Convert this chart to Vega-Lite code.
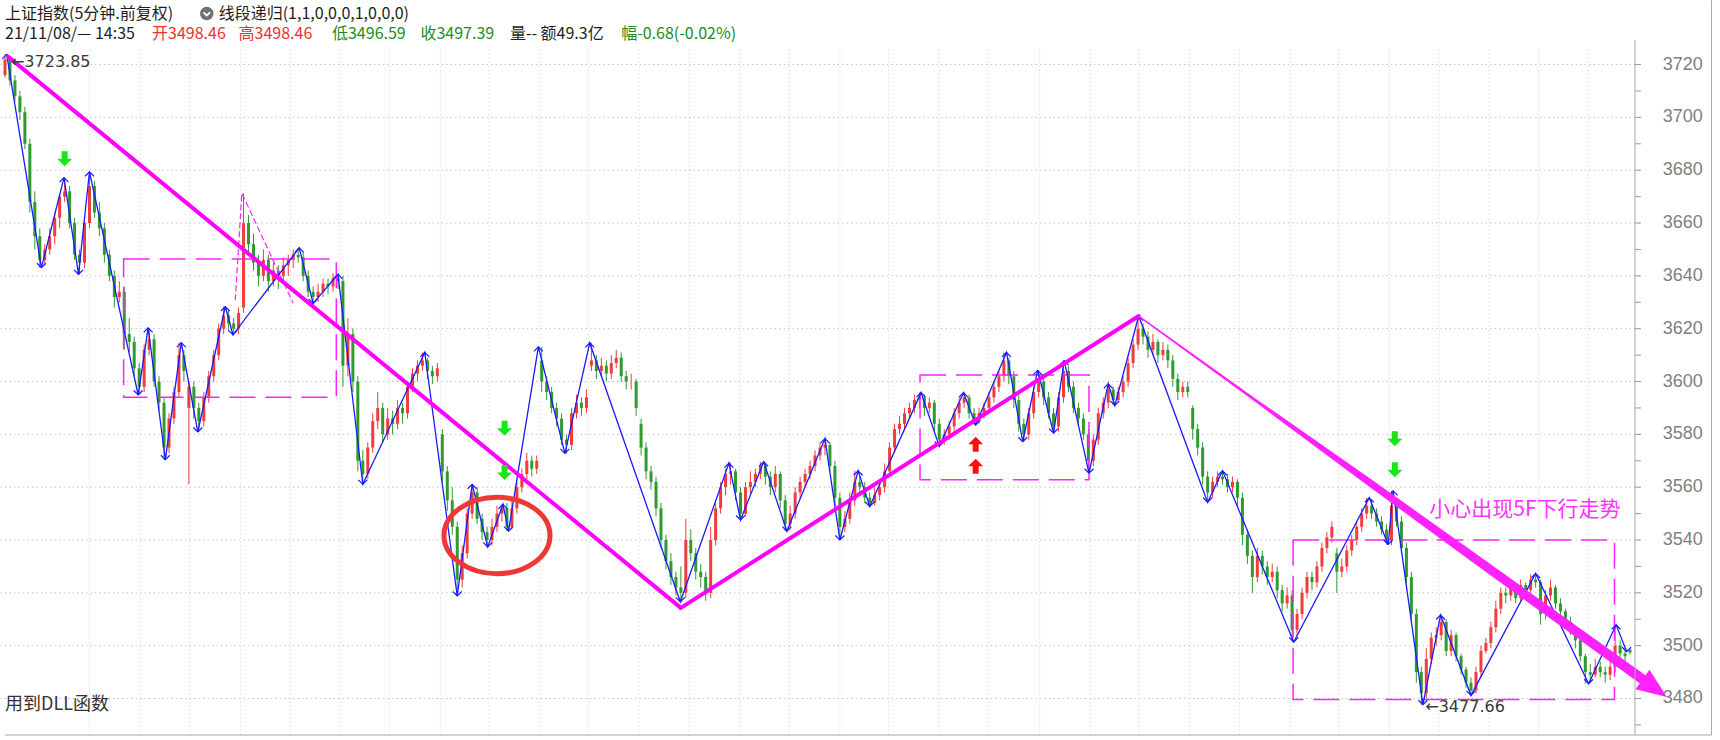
{
"$schema":"https://vega.github.io/schema/vega-lite/v6.json",
"width":1640,"height":685,
"autosize":{"type":"none"},
"padding":{"left":0,"top":50,"right":80,"bottom":5},
"background":"#ffffff",
"config":{"view":{"stroke":null},"font":"Liberation Sans"},
"datasets":{
"k":[
{"i":0,"o":3716,"h":3723.85,"l":3715,"c":3722},{"i":1,"o":3722,"h":3723,"l":3712,"c":3714},{"i":2,"o":3714,"h":3716,"l":3706,"c":3708},{"i":3,"o":3708,"h":3710,"l":3699,"c":3702},{"i":4,"o":3702,"h":3704,"l":3688,"c":3690},{"i":5,"o":3690,"h":3692,"l":3664,"c":3668},{"i":6,"o":3668,"h":3672,"l":3650,"c":3655},{"i":7,"o":3655,"h":3658,"l":3643,"c":3646},{"i":8,"o":3646,"h":3652,"l":3644,"c":3650},{"i":9,"o":3650,"h":3658,"l":3648,"c":3655},
{"i":10,"o":3655,"h":3664,"l":3652,"c":3662},{"i":11,"o":3662,"h":3671,"l":3658,"c":3670},{"i":12,"o":3670,"h":3677.2,"l":3668,"c":3672},{"i":13,"o":3672,"h":3674,"l":3658,"c":3660},{"i":14,"o":3660,"h":3662,"l":3646,"c":3648},{"i":15,"o":3648,"h":3650,"l":3640.6,"c":3645},{"i":16,"o":3645,"h":3662,"l":3643,"c":3660},{"i":17,"o":3660,"h":3679.4,"l":3658,"c":3674},{"i":18,"o":3674,"h":3676,"l":3662,"c":3664},{"i":19,"o":3664,"h":3668,"l":3655,"c":3658},
{"i":20,"o":3658,"h":3660,"l":3645,"c":3648},{"i":21,"o":3648,"h":3650,"l":3638,"c":3640},{"i":22,"o":3640,"h":3642,"l":3628,"c":3632},{"i":23,"o":3632,"h":3638,"l":3630,"c":3634},{"i":24,"o":3634,"h":3636,"l":3612,"c":3618},{"i":25,"o":3618,"h":3624,"l":3611,"c":3615},{"i":26,"o":3615,"h":3617,"l":3602,"c":3605},{"i":27,"o":3605,"h":3607,"l":3594.9,"c":3598},{"i":28,"o":3598,"h":3614,"l":3596,"c":3612},{"i":29,"o":3612,"h":3620.3,"l":3610,"c":3616},
{"i":30,"o":3616,"h":3618,"l":3598,"c":3600},{"i":31,"o":3600,"h":3602,"l":3589,"c":3592},{"i":32,"o":3592,"h":3594,"l":3570.4,"c":3575},{"i":33,"o":3575,"h":3588,"l":3573,"c":3586},{"i":34,"o":3586,"h":3598,"l":3584,"c":3596},{"i":35,"o":3596,"h":3614.7,"l":3594,"c":3610},{"i":36,"o":3610,"h":3612,"l":3600,"c":3604},{"i":37,"o":3590,"h":3600,"l":3561,"c":3598},{"i":38,"o":3598,"h":3600,"l":3586,"c":3590},{"i":39,"o":3590,"h":3592,"l":3580.9,"c":3585},
{"i":40,"o":3585,"h":3596,"l":3583,"c":3594},{"i":41,"o":3594,"h":3604,"l":3592,"c":3602},{"i":42,"o":3602,"h":3612,"l":3600,"c":3610},{"i":43,"o":3610,"h":3622,"l":3608,"c":3620},{"i":44,"o":3620,"h":3628.4,"l":3618,"c":3625},{"i":45,"o":3625,"h":3627,"l":3619,"c":3622},{"i":46,"o":3622,"h":3624,"l":3617.7,"c":3620},{"i":47,"o":3620,"h":3628,"l":3618,"c":3626},{"i":48,"o":3628,"h":3671.3,"l":3626,"c":3660},{"i":49,"o":3660,"h":3663,"l":3648,"c":3652},
{"i":50,"o":3652,"h":3656,"l":3642,"c":3645},{"i":51,"o":3645,"h":3648,"l":3636,"c":3640},{"i":52,"o":3640,"h":3650,"l":3638,"c":3646},{"i":53,"o":3646,"h":3648,"l":3634,"c":3638},{"i":54,"o":3638,"h":3645,"l":3636,"c":3642},{"i":55,"o":3642,"h":3644,"l":3635,"c":3640},{"i":56,"o":3640,"h":3647,"l":3638,"c":3644},{"i":57,"o":3644,"h":3648,"l":3640,"c":3646},{"i":58,"o":3646,"h":3650,"l":3643,"c":3648},{"i":59,"o":3648,"h":3650.6,"l":3645,"c":3647},
{"i":60,"o":3647,"h":3649,"l":3638,"c":3640},{"i":61,"o":3640,"h":3642,"l":3632,"c":3634},{"i":62,"o":3634,"h":3636,"l":3629.6,"c":3632},{"i":63,"o":3632,"h":3637,"l":3630,"c":3634},{"i":64,"o":3634,"h":3639,"l":3632,"c":3637},{"i":65,"o":3637,"h":3639,"l":3633,"c":3636},{"i":66,"o":3636,"h":3641,"l":3634,"c":3639},{"i":67,"o":3639,"h":3640.6,"l":3635,"c":3638},{"i":68,"o":3638,"h":3640,"l":3598,"c":3606},{"i":69,"o":3606,"h":3624,"l":3602,"c":3618},
{"i":70,"o":3618,"h":3620,"l":3596,"c":3600},{"i":71,"o":3600,"h":3602,"l":3566,"c":3570},{"i":72,"o":3570,"h":3574,"l":3561.1,"c":3565},{"i":73,"o":3565,"h":3577,"l":3563,"c":3575},{"i":74,"o":3575,"h":3588,"l":3573,"c":3585},{"i":75,"o":3585,"h":3596,"l":3582,"c":3590},{"i":76,"o":3590,"h":3592,"l":3577,"c":3580},{"i":77,"o":3580,"h":3590,"l":3578,"c":3586},{"i":78,"o":3586,"h":3589,"l":3580,"c":3584},{"i":79,"o":3584,"h":3593,"l":3582,"c":3590},
{"i":80,"o":3590,"h":3592,"l":3584,"c":3588},{"i":81,"o":3588,"h":3600,"l":3586,"c":3598},{"i":82,"o":3598,"h":3605,"l":3596,"c":3603},{"i":83,"o":3603,"h":3608,"l":3600,"c":3606},{"i":84,"o":3606,"h":3611,"l":3604,"c":3608},{"i":85,"o":3608,"h":3609,"l":3601,"c":3604},{"i":86,"o":3604,"h":3606,"l":3599,"c":3602},{"i":87,"o":3602,"h":3607,"l":3600,"c":3605},{"i":88,"o":3580,"h":3582,"l":3562,"c":3566},{"i":89,"o":3566,"h":3568,"l":3551,"c":3555},
{"i":90,"o":3555,"h":3560,"l":3542,"c":3545},{"i":91,"o":3545,"h":3547,"l":3518.8,"c":3525},{"i":92,"o":3525,"h":3538,"l":3522,"c":3535},{"i":93,"o":3535,"h":3552,"l":3533,"c":3550},{"i":94,"o":3550,"h":3561.1,"l":3548,"c":3558},{"i":95,"o":3558,"h":3560,"l":3546,"c":3548},{"i":96,"o":3548,"h":3550,"l":3540,"c":3543},{"i":97,"o":3543,"h":3545,"l":3537.4,"c":3540},{"i":98,"o":3540,"h":3548,"l":3538,"c":3545},{"i":99,"o":3545,"h":3553,"l":3543,"c":3550},
{"i":100,"o":3550,"h":3553.5,"l":3547,"c":3552},{"i":101,"o":3552,"h":3554,"l":3543.4,"c":3545},{"i":102,"o":3545,"h":3555,"l":3544,"c":3552},{"i":103,"o":3552,"h":3562,"l":3550,"c":3560},{"i":104,"o":3560,"h":3567,"l":3558,"c":3565},{"i":105,"o":3565,"h":3573,"l":3563,"c":3570},{"i":106,"o":3570,"h":3572,"l":3564,"c":3567},{"i":107,"o":3567,"h":3572,"l":3565,"c":3570},{"i":108,"o":3608,"h":3613.1,"l":3596,"c":3600},{"i":109,"o":3600,"h":3602,"l":3593,"c":3596},
{"i":110,"o":3596,"h":3598,"l":3588,"c":3590},{"i":111,"o":3590,"h":3592,"l":3583,"c":3586},{"i":112,"o":3586,"h":3588,"l":3576,"c":3578},{"i":113,"o":3578,"h":3580,"l":3572.8,"c":3576},{"i":114,"o":3576,"h":3590,"l":3574,"c":3588},{"i":115,"o":3588,"h":3595,"l":3586,"c":3592},{"i":116,"o":3592,"h":3594,"l":3587,"c":3590},{"i":117,"o":3590,"h":3597,"l":3588,"c":3594},{"i":118,"o":3606,"h":3614.6,"l":3604,"c":3608},{"i":119,"o":3608,"h":3610,"l":3601,"c":3604},
{"i":120,"o":3604,"h":3609,"l":3602,"c":3606},{"i":121,"o":3606,"h":3608,"l":3600,"c":3603},{"i":122,"o":3603,"h":3610,"l":3601,"c":3607},{"i":123,"o":3607,"h":3612,"l":3605,"c":3609},{"i":124,"o":3609,"h":3611,"l":3600,"c":3602},{"i":125,"o":3602,"h":3604,"l":3597,"c":3600},{"i":126,"o":3600,"h":3603,"l":3597,"c":3600},{"i":127,"o":3600,"h":3601,"l":3587,"c":3590},{"i":128,"o":3584,"h":3586,"l":3572,"c":3575},{"i":129,"o":3575,"h":3577,"l":3563,"c":3566},
{"i":130,"o":3566,"h":3568,"l":3559,"c":3562},{"i":131,"o":3562,"h":3564,"l":3549,"c":3552},{"i":132,"o":3552,"h":3554,"l":3537,"c":3540},{"i":133,"o":3540,"h":3542,"l":3529,"c":3532},{"i":134,"o":3532,"h":3535,"l":3523,"c":3526},{"i":135,"o":3526,"h":3528,"l":3519,"c":3522},{"i":136,"o":3522,"h":3530,"l":3516.6,"c":3520},{"i":137,"o":3520,"h":3548,"l":3518,"c":3540},{"i":138,"o":3540,"h":3544,"l":3532,"c":3535},{"i":139,"o":3535,"h":3537,"l":3525,"c":3528},
{"i":140,"o":3528,"h":3531,"l":3522,"c":3526},{"i":141,"o":3526,"h":3528,"l":3517,"c":3520},{"i":142,"o":3520,"h":3545,"l":3518,"c":3540},{"i":143,"o":3540,"h":3554,"l":3538,"c":3552},{"i":144,"o":3552,"h":3562,"l":3550,"c":3560},{"i":145,"o":3560,"h":3567,"l":3557,"c":3565},{"i":146,"o":3565,"h":3569.1,"l":3561,"c":3566},{"i":147,"o":3566,"h":3567,"l":3555,"c":3558},{"i":148,"o":3558,"h":3560,"l":3547.6,"c":3550},{"i":149,"o":3550,"h":3562,"l":3549,"c":3560},
{"i":150,"o":3560,"h":3566,"l":3557,"c":3562},{"i":151,"o":3562,"h":3567,"l":3560,"c":3565},{"i":152,"o":3565,"h":3569.6,"l":3563,"c":3568},{"i":153,"o":3568,"h":3569,"l":3561,"c":3564},{"i":154,"o":3564,"h":3566,"l":3557,"c":3560},{"i":155,"o":3560,"h":3568,"l":3558,"c":3565},{"i":156,"o":3565,"h":3566,"l":3552,"c":3555},{"i":157,"o":3555,"h":3557,"l":3543.4,"c":3546},{"i":158,"o":3546,"h":3553,"l":3544,"c":3550},{"i":159,"o":3550,"h":3560,"l":3548,"c":3558},
{"i":160,"o":3558,"h":3564,"l":3556,"c":3562},{"i":161,"o":3562,"h":3567,"l":3560,"c":3565},{"i":162,"o":3565,"h":3570,"l":3563,"c":3568},{"i":163,"o":3568,"h":3574,"l":3566,"c":3572},{"i":164,"o":3572,"h":3577,"l":3570,"c":3575},{"i":165,"o":3575,"h":3578.4,"l":3572,"c":3576},{"i":166,"o":3576,"h":3577,"l":3566,"c":3568},{"i":167,"o":3568,"h":3570,"l":3553,"c":3556},{"i":168,"o":3556,"h":3558,"l":3540,"c":3545},{"i":169,"o":3545,"h":3551,"l":3543,"c":3548},
{"i":170,"o":3548,"h":3558,"l":3546,"c":3555},{"i":171,"o":3555,"h":3566.2,"l":3553,"c":3562},{"i":172,"o":3562,"h":3564,"l":3557,"c":3560},{"i":173,"o":3560,"h":3562,"l":3554,"c":3556},{"i":174,"o":3556,"h":3558,"l":3552.7,"c":3554},{"i":175,"o":3554,"h":3560,"l":3553,"c":3557},{"i":176,"o":3557,"h":3563,"l":3555,"c":3560},{"i":177,"o":3560,"h":3569,"l":3558,"c":3566},{"i":178,"o":3566,"h":3577,"l":3564,"c":3575},{"i":179,"o":3575,"h":3584,"l":3573,"c":3582},
{"i":180,"o":3582,"h":3587,"l":3580,"c":3584},{"i":181,"o":3584,"h":3590,"l":3582,"c":3588},{"i":182,"o":3588,"h":3592,"l":3586,"c":3590},{"i":183,"o":3590,"h":3595,"l":3588,"c":3593},{"i":184,"o":3593,"h":3595.8,"l":3590,"c":3594},{"i":185,"o":3594,"h":3595,"l":3587,"c":3590},{"i":186,"o":3590,"h":3594,"l":3588,"c":3592},{"i":187,"o":3592,"h":3593,"l":3581,"c":3584},{"i":188,"o":3584,"h":3586,"l":3575.5,"c":3578},{"i":189,"o":3578,"h":3582,"l":3576,"c":3580},
{"i":190,"o":3580,"h":3585,"l":3578,"c":3583},{"i":191,"o":3583,"h":3590,"l":3581,"c":3588},{"i":192,"o":3588,"h":3594,"l":3586,"c":3592},{"i":193,"o":3592,"h":3595.8,"l":3590,"c":3594},{"i":194,"o":3594,"h":3595,"l":3586,"c":3588},{"i":195,"o":3588,"h":3590,"l":3583.6,"c":3585},{"i":196,"o":3585,"h":3590,"l":3584,"c":3588},{"i":197,"o":3588,"h":3592,"l":3586,"c":3590},{"i":198,"o":3590,"h":3596,"l":3588,"c":3594},{"i":199,"o":3594,"h":3600,"l":3592,"c":3598},
{"i":200,"o":3598,"h":3604,"l":3596,"c":3602},{"i":201,"o":3602,"h":3611,"l":3600,"c":3608},{"i":202,"o":3608,"h":3609,"l":3599,"c":3602},{"i":203,"o":3602,"h":3604,"l":3590,"c":3593},{"i":204,"o":3593,"h":3595,"l":3581,"c":3584},{"i":205,"o":3584,"h":3586,"l":3577.2,"c":3580},{"i":206,"o":3580,"h":3590,"l":3578,"c":3588},{"i":207,"o":3588,"h":3598,"l":3586,"c":3596},{"i":208,"o":3596,"h":3604.2,"l":3594,"c":3600},{"i":209,"o":3600,"h":3601,"l":3591,"c":3594},
{"i":210,"o":3594,"h":3596,"l":3586,"c":3588},{"i":211,"o":3588,"h":3590,"l":3580.5,"c":3583},{"i":212,"o":3583,"h":3596,"l":3581,"c":3594},{"i":213,"o":3594,"h":3607.9,"l":3592,"c":3604},{"i":214,"o":3604,"h":3606,"l":3596,"c":3598},{"i":215,"o":3598,"h":3600,"l":3588,"c":3590},{"i":216,"o":3590,"h":3592,"l":3583,"c":3586},{"i":217,"o":3586,"h":3588,"l":3578,"c":3580},{"i":218,"o":3580,"h":3582,"l":3565.3,"c":3570},{"i":219,"o":3570,"h":3580,"l":3568,"c":3578},
{"i":220,"o":3578,"h":3590,"l":3576,"c":3588},{"i":221,"o":3588,"h":3594,"l":3586,"c":3592},{"i":222,"o":3592,"h":3599.1,"l":3590,"c":3597},{"i":223,"o":3597,"h":3598,"l":3591,"c":3593},{"i":224,"o":3593,"h":3598,"l":3592,"c":3596},{"i":225,"o":3596,"h":3602,"l":3594,"c":3600},{"i":226,"o":3600,"h":3609,"l":3598,"c":3607},{"i":227,"o":3607,"h":3616,"l":3605,"c":3614},{"i":228,"o":3614,"h":3624.8,"l":3612,"c":3620},{"i":229,"o":3620,"h":3622,"l":3614,"c":3617},
{"i":230,"o":3617,"h":3619,"l":3609,"c":3612},{"i":231,"o":3612,"h":3618,"l":3610,"c":3615},{"i":232,"o":3615,"h":3616,"l":3607,"c":3610},{"i":233,"o":3610,"h":3615,"l":3608,"c":3612},{"i":234,"o":3612,"h":3614,"l":3605,"c":3608},{"i":235,"o":3608,"h":3610,"l":3598,"c":3601},{"i":236,"o":3601,"h":3603,"l":3593,"c":3596},{"i":237,"o":3596,"h":3600,"l":3594,"c":3598},{"i":238,"o":3598,"h":3600,"l":3594,"c":3596},{"i":239,"o":3590,"h":3591,"l":3578,"c":3582},
{"i":240,"o":3582,"h":3584,"l":3572,"c":3575},{"i":241,"o":3575,"h":3577,"l":3561,"c":3564},{"i":242,"o":3564,"h":3566,"l":3554.3,"c":3558},{"i":243,"o":3558,"h":3564,"l":3556,"c":3562},{"i":244,"o":3562,"h":3566,"l":3560,"c":3564},{"i":245,"o":3564,"h":3566.2,"l":3561,"c":3563},{"i":246,"o":3563,"h":3565,"l":3558,"c":3560},{"i":247,"o":3560,"h":3564,"l":3558,"c":3562},{"i":248,"o":3562,"h":3563,"l":3553,"c":3556},{"i":249,"o":3556,"h":3558,"l":3538,"c":3542},
{"i":250,"o":3542,"h":3544,"l":3531,"c":3534},{"i":251,"o":3534,"h":3536,"l":3520,"c":3526},{"i":252,"o":3526,"h":3537,"l":3524,"c":3534},{"i":253,"o":3534,"h":3536,"l":3527,"c":3530},{"i":254,"o":3530,"h":3532,"l":3523,"c":3526},{"i":255,"o":3526,"h":3531,"l":3524,"c":3528},{"i":256,"o":3528,"h":3530,"l":3518,"c":3521},{"i":257,"o":3521,"h":3523,"l":3513,"c":3516},{"i":258,"o":3516,"h":3522,"l":3514,"c":3519},{"i":259,"o":3519,"h":3521,"l":3501.4,"c":3506},
{"i":260,"o":3506,"h":3514,"l":3504,"c":3512},{"i":261,"o":3512,"h":3522,"l":3510,"c":3520},{"i":262,"o":3520,"h":3528,"l":3518,"c":3526},{"i":263,"o":3526,"h":3528,"l":3521,"c":3524},{"i":264,"o":3524,"h":3532,"l":3522,"c":3530},{"i":265,"o":3530,"h":3539,"l":3528,"c":3537},{"i":266,"o":3537,"h":3543,"l":3535,"c":3541},{"i":267,"o":3541,"h":3547,"l":3539,"c":3545},{"i":268,"o":3535,"h":3537,"l":3520,"c":3528},{"i":269,"o":3528,"h":3533,"l":3526,"c":3530},
{"i":270,"o":3530,"h":3538,"l":3528,"c":3536},{"i":271,"o":3536,"h":3542,"l":3534,"c":3540},{"i":272,"o":3540,"h":3547,"l":3538,"c":3545},{"i":273,"o":3545,"h":3552,"l":3543,"c":3550},{"i":274,"o":3550,"h":3556,"l":3548,"c":3553},{"i":275,"o":3553,"h":3555,"l":3548,"c":3550},{"i":276,"o":3550,"h":3552,"l":3545,"c":3547},{"i":277,"o":3547,"h":3549,"l":3542,"c":3544},{"i":278,"o":3544,"h":3546,"l":3538.3,"c":3540},{"i":279,"o":3540,"h":3558.6,"l":3538,"c":3553},
{"i":280,"o":3553,"h":3555,"l":3545,"c":3547},{"i":281,"o":3547,"h":3549,"l":3535,"c":3537},{"i":282,"o":3537,"h":3539,"l":3523,"c":3526},{"i":283,"o":3526,"h":3528,"l":3509,"c":3512},{"i":284,"o":3512,"h":3514,"l":3486,"c":3490},{"i":285,"o":3490,"h":3492,"l":3477.66,"c":3482},{"i":286,"o":3482,"h":3499,"l":3480,"c":3495},{"i":287,"o":3495,"h":3505,"l":3493,"c":3503},{"i":288,"o":3503,"h":3507,"l":3500,"c":3504},{"i":289,"o":3504,"h":3511.6,"l":3502,"c":3509},
{"i":290,"o":3509,"h":3510,"l":3496,"c":3498},{"i":291,"o":3498,"h":3506,"l":3496,"c":3504},{"i":292,"o":3504,"h":3505,"l":3494,"c":3496},{"i":293,"o":3496,"h":3497,"l":3489,"c":3491},{"i":294,"o":3491,"h":3492,"l":3484,"c":3486},{"i":295,"o":3486,"h":3488,"l":3481.2,"c":3483},{"i":296,"o":3483,"h":3492,"l":3482,"c":3490},{"i":297,"o":3490,"h":3500,"l":3488,"c":3498},{"i":298,"o":3498,"h":3503,"l":3497,"c":3501},{"i":299,"o":3501,"h":3509,"l":3499,"c":3507},
{"i":300,"o":3507,"h":3517,"l":3505,"c":3514},{"i":301,"o":3514,"h":3522,"l":3512,"c":3520},{"i":302,"o":3520,"h":3522,"l":3516,"c":3519},{"i":303,"o":3519,"h":3524,"l":3517,"c":3522},{"i":304,"o":3522,"h":3523,"l":3516,"c":3518},{"i":305,"o":3518,"h":3525,"l":3517,"c":3523},{"i":306,"o":3523,"h":3524,"l":3519,"c":3521},{"i":307,"o":3521,"h":3527,"l":3520,"c":3525},{"i":308,"o":3525,"h":3527.3,"l":3522,"c":3524},{"i":309,"o":3524,"h":3525,"l":3508,"c":3512},
{"i":310,"o":3512,"h":3521,"l":3510,"c":3519},{"i":311,"o":3519,"h":3525,"l":3517,"c":3522},{"i":312,"o":3522,"h":3523,"l":3514,"c":3516},{"i":313,"o":3516,"h":3518,"l":3511,"c":3513},{"i":314,"o":3513,"h":3514,"l":3507,"c":3509},{"i":315,"o":3509,"h":3511,"l":3504,"c":3506},{"i":316,"o":3506,"h":3507,"l":3499,"c":3502},{"i":317,"o":3502,"h":3503,"l":3494,"c":3496},{"i":318,"o":3496,"h":3497,"l":3485.6,"c":3490},{"i":319,"o":3490,"h":3493,"l":3486,"c":3489},
{"i":320,"o":3489,"h":3495,"l":3488,"c":3492},{"i":321,"o":3492,"h":3494,"l":3488,"c":3490},{"i":322,"o":3490,"h":3492,"l":3486,"c":3489},{"i":323,"o":3489,"h":3494,"l":3487,"c":3492},{"i":324,"o":3492,"h":3507.9,"l":3490,"c":3500},{"i":325,"o":3500,"h":3502,"l":3494,"c":3497},{"i":326,"o":3497,"h":3499,"l":3493,"c":3496},{"i":327,"o":3498.46,"h":3498.46,"l":3496.59,"c":3497.39}
],
"dg":[{"i":17},{"i":27.2},{"i":37.2},{"i":47.4},{"i":57.4},{"i":67.4},{"i":77.4},{"i":87.6},{"i":97.4},{"i":107.6},{"i":117.4},{"i":127.6},{"i":137.6},{"i":147.8},{"i":157.8},{"i":168},{"i":177.8},{"i":188},{"i":197.8},{"i":208.2},{"i":218.4},{"i":228.2},{"i":238.4},{"i":248.4},{"i":258.6},{"i":268.4},{"i":278.6},{"i":288.6},{"i":298.6},{"i":308.6},{"i":318.6}],
"ty":[{"v":3470},{"v":3480},{"v":3490},{"v":3500},{"v":3510},{"v":3520},{"v":3530},{"v":3540},{"v":3550},{"v":3560},{"v":3570},{"v":3580},{"v":3590},{"v":3600},{"v":3610},{"v":3620},{"v":3630},{"v":3640},{"v":3650},{"v":3660},{"v":3670},{"v":3680},{"v":3690},{"v":3700},{"v":3710},{"v":3720}],
"gy":[{"v":3480,"t":"3480"},{"v":3500,"t":"3500"},{"v":3520,"t":"3520"},{"v":3540,"t":"3540"},{"v":3560,"t":"3560"},{"v":3580,"t":"3580"},{"v":3600,"t":"3600"},{"v":3620,"t":"3620"},{"v":3640,"t":"3640"},{"v":3660,"t":"3660"},{"v":3680,"t":"3680"},{"v":3700,"t":"3700"},{"v":3720,"t":"3720"}],
"bx":[{"i":23.87,"i2":66.67,"v":3594,"v2":3646.4},{"i":184.13,"i2":218.13,"v":3562.8,"v2":3602.5},{"i":259.2,"i2":323.87,"v":3479.6,"v2":3540}],
"pm":[{"i":46.34,"v":3630.8},{"i":47.66,"v":3671.3},{"i":58,"v":3629.6}],
"tl":[{"g":"a","i":0.66,"v":3722.9},{"g":"a","i":136,"v":3514.3},{"g":"b","i":136,"v":3514.3},{"g":"b","i":228.13,"v":3624.8}],
"tr":[{"i":228.13,"v":3624.8},{"i":252,"v":3592.4},{"i":274,"v":3562.6},{"i":296.6,"v":3531.9},{"i":330,"v":3486.6}],
"ah":[{"i":331.96,"v":3483.86}],
"zz":[
{"i":0.34,"v":3723.85,"k":"h"},{"i":7.33,"v":3643.1,"k":"l"},{"i":11.87,"v":3677.2,"k":"h"},{"i":14.8,"v":3640.6,"k":"l"},{"i":17,"v":3679.4,"k":"h"},{"i":26.8,"v":3594.9,"k":"l"},{"i":28.8,"v":3620.3,"k":"h"},{"i":32.27,"v":3570.4,"k":"l"},{"i":35.47,"v":3614.7,"k":"h"},{"i":38.8,"v":3580.9,"k":"l"},
{"i":44.33,"v":3628.4,"k":"h"},{"i":45.87,"v":3617.7,"k":"l"},{"i":59.2,"v":3650.6,"k":"h"},{"i":62,"v":3629.6,"k":"l"},{"i":67,"v":3640.6,"k":"h"},{"i":72,"v":3561.1,"k":"l"},{"i":84.47,"v":3611,"k":"h"},{"i":91,"v":3518.8,"k":"l"},{"i":94,"v":3561.1,"k":"h"},{"i":97.13,"v":3537.4,"k":"l"},
{"i":100.2,"v":3553.5,"k":"h"},{"i":101.33,"v":3543.4,"k":"l"},{"i":107.33,"v":3613.1,"k":"h"},{"i":112.67,"v":3572.8,"k":"l"},{"i":117.67,"v":3614.6,"k":"h"},{"i":135.9,"v":3516.6,"k":"l"},{"i":145.67,"v":3569.1,"k":"h"},{"i":148,"v":3547.6,"k":"l"},{"i":152.67,"v":3569.6,"k":"h"},{"i":157.33,"v":3543.4,"k":"l"},
{"i":165,"v":3578.4,"k":"h"},{"i":168,"v":3540,"k":"l"},{"i":171.67,"v":3566.2,"k":"h"},{"i":174,"v":3552.7,"k":"l"},{"i":184.33,"v":3595.8,"k":"h"},{"i":188,"v":3575.5,"k":"l"},{"i":192.87,"v":3595.8,"k":"h"},{"i":195.33,"v":3583.6,"k":"l"},{"i":201.53,"v":3611,"k":"h"},{"i":204.8,"v":3577.2,"k":"l"},
{"i":207.8,"v":3604.2,"k":"h"},{"i":211,"v":3580.5,"k":"l"},{"i":213.13,"v":3607.9,"k":"h"},{"i":218.13,"v":3565.3,"k":"l"},{"i":222,"v":3599.1,"k":"h"},{"i":223.33,"v":3591,"k":"l"},{"i":228.13,"v":3624.8,"k":"h"},{"i":242,"v":3554.3,"k":"l"},{"i":245,"v":3566.2,"k":"h"},{"i":259.33,"v":3501.4,"k":"l"},
{"i":274.53,"v":3556,"k":"h"},{"i":278.33,"v":3538.3,"k":"l"},{"i":279.33,"v":3558.6,"k":"h"},{"i":285.33,"v":3477.66,"k":"l"},{"i":288.87,"v":3511.6,"k":"h"},{"i":295,"v":3481.2,"k":"l"},{"i":308,"v":3527.3,"k":"h"},{"i":318.67,"v":3485.6,"k":"l"},{"i":324.2,"v":3507.9,"k":"h"},{"i":326.33,"v":3497.7,"k":"l"}
],
"ar":[{"i":12,"v":3684.3,"k":"dn"},{"i":100.53,"v":3582.3,"k":"dn"},{"i":100.53,"v":3565.6,"k":"dn"},{"i":279.67,"v":3578.3,"k":"dn"},{"i":279.67,"v":3566.6,"k":"dn"},{"i":195.33,"v":3576.3,"k":"up"},{"i":195.33,"v":3567.9,"k":"up"}],
"el":[{"i":99,"v":3541.7}],
"ic":[{"i":40.6,"v":3739.3}],
"tx":[
{"i":0,"v":3739.3,"t":"上证指数(5分钟.前复权)","k":"hd"},
{"i":43,"v":3739.3,"t":"线段递归(1,1,0,0,0,1,0,0,0)","k":"hd"},
{"i":0,"v":3731.4,"t":"21/11/08/— 14:35","k":"hd"},
{"i":29.6,"v":3731.4,"t":"开3498.46","k":"hu"},
{"i":47,"v":3731.4,"t":"高3498.46","k":"hu"},
{"i":65.8,"v":3731.4,"t":"低3496.59","k":"hg"},
{"i":83.6,"v":3731.4,"t":"收3497.39","k":"hg"},
{"i":101.6,"v":3731.4,"t":"量-- 额49.3亿","k":"hd"},
{"i":124,"v":3731.4,"t":"幅-0.68(-0.02%)","k":"hg"},
{"i":0,"v":3477.5,"t":"用到DLL函数","k":"dl"},
{"i":1.2,"v":3721.1,"t":"←3723.85","k":"lb"},
{"i":285.8,"v":3476.9,"t":"←3477.66","k":"lb"},
{"i":286.6,"v":3551.4,"t":"小心出现5F下行走势","k":"wn"}
],
"bd":[{"i":0,"i2":343.4,"v":3466.18,"v2":3466.18},{"i":343.4,"i2":343.4,"v":3466.18,"v2":3744.4},{"i":328,"i2":328,"v":3466.18,"v2":3729.3}]
},
"layer":[
{"data":{"name":"dg"},"mark":{"type":"rule","color":"#d0d0d0","strokeWidth":1,"strokeDash":[1,3]},
 "encoding":{"x":{"field":"i","type":"quantitative","scale":{"domain":[0,328],"nice":false,"zero":false},"axis":null}}},
{"data":{"name":"gy"},"mark":{"type":"rule","color":"#c4c4c4","strokeWidth":1,"strokeDash":[1.5,3]},
 "encoding":{"y":{"field":"v","type":"quantitative","scale":{"domain":[3466.18,3725.51],"nice":false,"zero":false},"axis":null}}},
{"data":{"name":"ty"},"mark":{"type":"rule","color":"#9a9a9a","strokeWidth":1},
 "encoding":{"x":{"datum":328,"type":"quantitative","scale":{"domain":[0,328],"nice":false,"zero":false},"axis":null},"x2":{"datum":329.2},
  "y":{"field":"v","type":"quantitative","scale":{"domain":[3466.18,3725.51],"nice":false,"zero":false},"axis":null}}},
{"data":{"name":"gy"},"mark":{"type":"text","align":"left","baseline":"middle","font":"Liberation Sans","fontSize":18,"color":"#808080"},
 "encoding":{"x":{"datum":333.6,"type":"quantitative","scale":{"domain":[0,328],"nice":false,"zero":false},"axis":null},
  "y":{"field":"v","type":"quantitative","scale":{"domain":[3466.18,3725.51],"nice":false,"zero":false},"axis":null},"text":{"field":"t"}}},
{"data":{"name":"k"},"mark":{"type":"rule","strokeWidth":1},
 "encoding":{"x":{"field":"i","type":"quantitative","scale":{"domain":[0,328],"nice":false,"zero":false},"axis":null},
  "y":{"field":"l","type":"quantitative","scale":{"domain":[3466.18,3725.51],"nice":false,"zero":false},"axis":null},
  "y2":{"field":"h"},
  "color":{"condition":{"test":"datum.c >= datum.o","value":"#f03c3c"},"value":"#2f9a2f"}}},
{"data":{"name":"k"},"mark":{"type":"bar","width":3},
 "encoding":{"x":{"field":"i","type":"quantitative","scale":{"domain":[0,328],"nice":false,"zero":false},"axis":null},
  "y":{"field":"o","type":"quantitative","scale":{"domain":[3466.18,3725.51],"nice":false,"zero":false},"axis":null},
  "y2":{"field":"c"},
  "color":{"condition":{"test":"datum.c >= datum.o","value":"#f03c3c"},"value":"#2f9a2f"}}},
{"data":{"name":"bx"},"mark":{"type":"rect","fill":null,"fillOpacity":0,"stroke":"#ff22ff","strokeWidth":1.5,"strokeDash":[26,10]},
 "encoding":{"x":{"field":"i","type":"quantitative","scale":{"domain":[0,328],"nice":false,"zero":false},"axis":null},"x2":{"field":"i2"},
  "y":{"field":"v","type":"quantitative","scale":{"domain":[3466.18,3725.51],"nice":false,"zero":false},"axis":null},"y2":{"field":"v2"}}},
{"data":{"name":"pm"},"mark":{"type":"line","color":"#ff22ff","strokeWidth":1.2,"strokeDash":[6,3]},
 "encoding":{"x":{"field":"i","type":"quantitative","scale":{"domain":[0,328],"nice":false,"zero":false},"axis":null},
  "y":{"field":"v","type":"quantitative","scale":{"domain":[3466.18,3725.51],"nice":false,"zero":false},"axis":null}}},
{"data":{"name":"zz"},"mark":{"type":"line","color":"#1a1aff","strokeWidth":1.3},
 "encoding":{"x":{"field":"i","type":"quantitative","scale":{"domain":[0,328],"nice":false,"zero":false},"axis":null},
  "y":{"field":"v","type":"quantitative","scale":{"domain":[3466.18,3725.51],"nice":false,"zero":false},"axis":null}}},
{"data":{"name":"zz"},"transform":[{"filter":"datum.k === 'h'"}],"mark":{"type":"point","shape":"M-1,1L0,0L1,1","filled":false,"size":80,"color":"#1a1aff","strokeWidth":1.2,"opacity":1},
 "encoding":{"x":{"field":"i","type":"quantitative","scale":{"domain":[0,328],"nice":false,"zero":false},"axis":null},
  "y":{"field":"v","type":"quantitative","scale":{"domain":[3466.18,3725.51],"nice":false,"zero":false},"axis":null}}},
{"data":{"name":"zz"},"transform":[{"filter":"datum.k === 'l'"}],"mark":{"type":"point","shape":"M-1,-1L0,0L1,-1","filled":false,"size":80,"color":"#1a1aff","strokeWidth":1.2,"opacity":1},
 "encoding":{"x":{"field":"i","type":"quantitative","scale":{"domain":[0,328],"nice":false,"zero":false},"axis":null},
  "y":{"field":"v","type":"quantitative","scale":{"domain":[3466.18,3725.51],"nice":false,"zero":false},"axis":null}}},
{"data":{"name":"tl"},"mark":{"type":"line","color":"#ff00ff","strokeWidth":4,"strokeCap":"round"},
 "encoding":{"x":{"field":"i","type":"quantitative","scale":{"domain":[0,328],"nice":false,"zero":false},"axis":null},
  "y":{"field":"v","type":"quantitative","scale":{"domain":[3466.18,3725.51],"nice":false,"zero":false},"axis":null},
  "detail":{"field":"g"}}},
{"data":{"name":"tr"},"mark":{"type":"trail","color":"#ff22ff"},
 "encoding":{"x":{"field":"i","type":"quantitative","scale":{"domain":[0,328],"nice":false,"zero":false},"axis":null},
  "y":{"field":"v","type":"quantitative","scale":{"domain":[3466.18,3725.51],"nice":false,"zero":false},"axis":null},
  "size":{"field":"i","type":"quantitative","scale":{"domain":[228.13,252,274,296.6,330],"range":[1.5,3,7,9,10]},"legend":null}}},
{"data":{"name":"ah"},"mark":{"type":"point","shape":"M-1,-0.8L1,0L-1,0.8Z","angle":35.6,"size":900,"filled":true,"color":"#ff22ff","opacity":1},
 "encoding":{"x":{"field":"i","type":"quantitative","scale":{"domain":[0,328],"nice":false,"zero":false},"axis":null},
  "y":{"field":"v","type":"quantitative","scale":{"domain":[3466.18,3725.51],"nice":false,"zero":false},"axis":null}}},
{"data":{"name":"ar"},"transform":[{"filter":"datum.k === 'dn'"}],"mark":{"type":"point","shape":"M-0.4,-1L0.4,-1L0.4,0L1,0L0,1L-1,0L-0.4,0Z","size":225,"filled":true,"color":"#19e619","opacity":1},
 "encoding":{"x":{"field":"i","type":"quantitative","scale":{"domain":[0,328],"nice":false,"zero":false},"axis":null},
  "y":{"field":"v","type":"quantitative","scale":{"domain":[3466.18,3725.51],"nice":false,"zero":false},"axis":null}}},
{"data":{"name":"ar"},"transform":[{"filter":"datum.k === 'up'"}],"mark":{"type":"point","shape":"M-0.4,1L0.4,1L0.4,0L1,0L0,-1L-1,0L-0.4,0Z","size":225,"filled":true,"color":"#ff1010","opacity":1},
 "encoding":{"x":{"field":"i","type":"quantitative","scale":{"domain":[0,328],"nice":false,"zero":false},"axis":null},
  "y":{"field":"v","type":"quantitative","scale":{"domain":[3466.18,3725.51],"nice":false,"zero":false},"axis":null}}},
{"data":{"name":"el"},"mark":{"type":"point","shape":"M1,0C1,0.3977,0.5523,0.72,0,0.72C-0.5523,0.72,-1,0.3977,-1,0C-1,-0.3977,-0.5523,-0.72,0,-0.72C0.5523,-0.72,1,-0.3977,1,0Z","size":11236,"filled":false,"color":"#ee3838","strokeWidth":5,"opacity":1},
 "encoding":{"x":{"field":"i","type":"quantitative","scale":{"domain":[0,328],"nice":false,"zero":false},"axis":null},
  "y":{"field":"v","type":"quantitative","scale":{"domain":[3466.18,3725.51],"nice":false,"zero":false},"axis":null}}},
{"data":{"name":"ic"},"mark":{"type":"point","shape":"circle","size":180,"filled":true,"color":"#707070","opacity":1},
 "encoding":{"x":{"field":"i","type":"quantitative","scale":{"domain":[0,328],"nice":false,"zero":false},"axis":null},
  "y":{"field":"v","type":"quantitative","scale":{"domain":[3466.18,3725.51],"nice":false,"zero":false},"axis":null}}},
{"data":{"name":"ic"},"mark":{"type":"point","shape":"M-0.55,-0.2L0,0.3L0.55,-0.2","size":144,"filled":false,"color":"#ffffff","strokeWidth":2,"opacity":1},
 "encoding":{"x":{"field":"i","type":"quantitative","scale":{"domain":[0,328],"nice":false,"zero":false},"axis":null},
  "y":{"field":"v","type":"quantitative","scale":{"domain":[3466.18,3725.51],"nice":false,"zero":false},"axis":null}}},
{"data":{"name":"tx"},"transform":[{"filter":"datum.k === 'hd'"}],"mark":{"type":"text","align":"left","baseline":"middle","font":"Noto Sans CJK SC","fontSize":16,"color":"#1e1e1e"},
 "encoding":{"x":{"field":"i","type":"quantitative","scale":{"domain":[0,328],"nice":false,"zero":false},"axis":null},
  "y":{"field":"v","type":"quantitative","scale":{"domain":[3466.18,3725.51],"nice":false,"zero":false},"axis":null},"text":{"field":"t"}}},
{"data":{"name":"tx"},"transform":[{"filter":"datum.k === 'hu'"}],"mark":{"type":"text","align":"left","baseline":"middle","font":"Noto Sans CJK SC","fontSize":16,"color":"#f03030"},
 "encoding":{"x":{"field":"i","type":"quantitative","scale":{"domain":[0,328],"nice":false,"zero":false},"axis":null},
  "y":{"field":"v","type":"quantitative","scale":{"domain":[3466.18,3725.51],"nice":false,"zero":false},"axis":null},"text":{"field":"t"}}},
{"data":{"name":"tx"},"transform":[{"filter":"datum.k === 'hg'"}],"mark":{"type":"text","align":"left","baseline":"middle","font":"Noto Sans CJK SC","fontSize":16,"color":"#1c8c1c"},
 "encoding":{"x":{"field":"i","type":"quantitative","scale":{"domain":[0,328],"nice":false,"zero":false},"axis":null},
  "y":{"field":"v","type":"quantitative","scale":{"domain":[3466.18,3725.51],"nice":false,"zero":false},"axis":null},"text":{"field":"t"}}},
{"data":{"name":"tx"},"transform":[{"filter":"datum.k === 'dl'"}],"mark":{"type":"text","align":"left","baseline":"middle","font":"Noto Sans CJK SC","fontSize":18,"color":"#333333"},
 "encoding":{"x":{"field":"i","type":"quantitative","scale":{"domain":[0,328],"nice":false,"zero":false},"axis":null},
  "y":{"field":"v","type":"quantitative","scale":{"domain":[3466.18,3725.51],"nice":false,"zero":false},"axis":null},"text":{"field":"t"}}},
{"data":{"name":"tx"},"transform":[{"filter":"datum.k === 'lb'"}],"mark":{"type":"text","align":"left","baseline":"middle","font":"DejaVu Sans","fontSize":16,"color":"#3a3a3a"},
 "encoding":{"x":{"field":"i","type":"quantitative","scale":{"domain":[0,328],"nice":false,"zero":false},"axis":null},
  "y":{"field":"v","type":"quantitative","scale":{"domain":[3466.18,3725.51],"nice":false,"zero":false},"axis":null},"text":{"field":"t"}}},
{"data":{"name":"tx"},"transform":[{"filter":"datum.k === 'wn'"}],"mark":{"type":"text","align":"left","baseline":"middle","font":"Noto Sans CJK SC","fontSize":21,"color":"#ff33ff"},
 "encoding":{"x":{"field":"i","type":"quantitative","scale":{"domain":[0,328],"nice":false,"zero":false},"axis":null},
  "y":{"field":"v","type":"quantitative","scale":{"domain":[3466.18,3725.51],"nice":false,"zero":false},"axis":null},"text":{"field":"t"}}},
{"data":{"name":"bd"},"mark":{"type":"rule","color":"#a8a8a8","strokeWidth":1},
 "encoding":{"x":{"field":"i","type":"quantitative","scale":{"domain":[0,328],"nice":false,"zero":false},"axis":null},"x2":{"field":"i2"},
  "y":{"field":"v","type":"quantitative","scale":{"domain":[3466.18,3725.51],"nice":false,"zero":false},"axis":null},"y2":{"field":"v2"}}}
]
}
